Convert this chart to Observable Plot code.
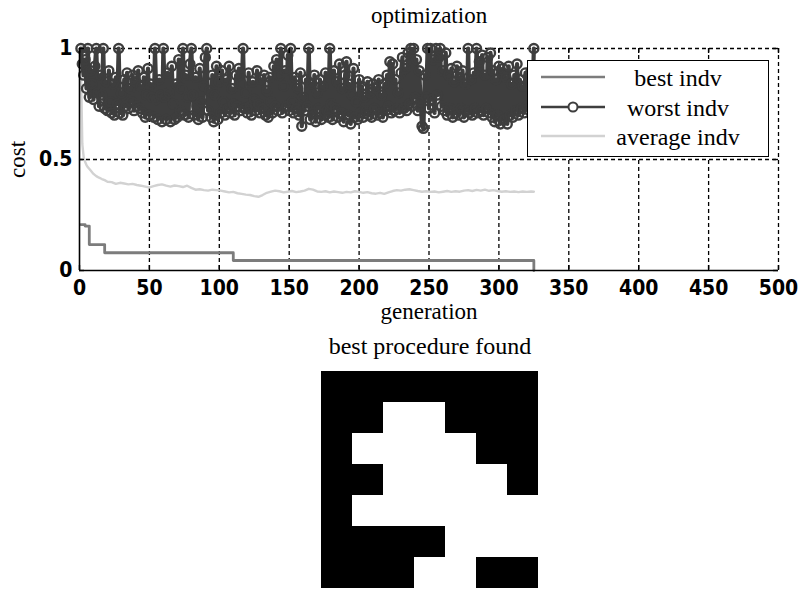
<!DOCTYPE html>
<html><head><meta charset="utf-8">
<script src="https://cdn.jsdelivr.net/npm/d3@7"></script>
<script src="https://cdn.jsdelivr.net/npm/@observablehq/plot@0.6"></script>
<style>
html,body{margin:0;padding:0;background:#fff;}
#wrap{position:relative;width:798px;height:591px;overflow:hidden;background:#fff;}
#topchart{position:absolute;left:0;top:0;}
#bottomchart{position:absolute;left:0;top:328px;}
#legend{position:absolute;left:527px;top:60px;width:240px;height:95px;border:1.5px solid #000;background:#fff;}
</style>
</head><body>
<div id="wrap">
  <div id="topchart"></div>
  <div id="bottomchart"></div>
  <div id="legend"></div>
</div>
<script>
// ---------- data ----------
const xTicks = [0, 50, 100, 150, 200, 250, 300, 350, 400, 450, 500];
const yTicks = [0, 0.5, 1];
const seriesNames = ["best indv", "worst indv", "average indv"];
const seriesColors = ["#7c7c7c", "#3e3e3e", "#d2d2d2"];

// best individual cost (step changes)
const bestGen  = [1, 4, 7, 18, 110, 325];
const bestCost = [0.207, 0.2, 0.117, 0.08, 0.045, 0];

// average individual cost
const avgGen = [1,2,3,4,5,6,8,10,12,14,16,18,20,23,26,29,32,35,38,41,44,47,50,53,56,59,62,65,68,71,74,77,80,83,86,89,92,95,98,101,104,107,110,113,116,119,122,125,128,131,134,137,140,143,146,149,152,155,158,161,164,167,170,173,176,179,182,185,188,191,194,197,200,203,206,209,212,215,218,221,224,227,230,233,236,239,242,245,248,251,254,257,260,263,266,269,272,275,278,281,284,287,290,293,296,299,302,305,308,311,314,317,320,323,325];
const avgCost = [0.93,0.57,0.51,0.49,0.475,0.465,0.45,0.435,0.425,0.418,0.412,0.407,0.40,0.398,0.39,0.395,0.392,0.388,0.39,0.385,0.382,0.378,0.374,0.38,0.385,0.388,0.382,0.378,0.383,0.38,0.376,0.382,0.372,0.364,0.366,0.362,0.36,0.364,0.362,0.36,0.356,0.352,0.354,0.348,0.345,0.342,0.34,0.335,0.332,0.34,0.35,0.355,0.36,0.357,0.352,0.355,0.358,0.353,0.356,0.36,0.368,0.364,0.356,0.354,0.357,0.352,0.356,0.353,0.35,0.354,0.352,0.357,0.354,0.35,0.353,0.348,0.346,0.35,0.345,0.352,0.358,0.362,0.36,0.364,0.366,0.362,0.358,0.355,0.357,0.354,0.356,0.352,0.355,0.358,0.354,0.357,0.355,0.36,0.362,0.358,0.363,0.36,0.364,0.359,0.362,0.358,0.355,0.357,0.354,0.356,0.353,0.356,0.354,0.356,0.355];

// worst individual cost, generations 1..325
const worstCost = [
1.00,0.93,0.88,0.95,0.82,1.00,0.78,0.90,0.84,0.77,
0.92,1.00,0.80,0.74,0.88,0.79,1.00,0.73,0.85,0.72,
0.90,0.76,0.71,0.84,0.70,0.87,0.75,1.00,0.71,0.80,
0.70,0.86,0.74,0.89,0.73,0.82,0.76,0.88,0.72,0.85,
0.74,0.90,0.73,0.83,0.71,0.87,0.69,0.79,0.91,0.70,
0.84,0.78,0.69,1.00,0.77,0.68,0.86,0.79,0.67,1.00,
0.78,0.68,0.89,0.80,0.67,0.92,0.75,0.68,0.84,0.69,
0.95,0.72,0.82,1.00,0.70,0.88,0.78,0.69,0.93,1.00,
0.79,0.70,0.87,0.74,0.68,0.91,0.76,0.69,0.83,0.96,
1.00,0.72,0.81,0.69,0.88,0.67,0.79,0.92,0.68,0.85,
0.71,0.90,0.76,0.70,0.86,0.73,0.92,0.71,0.82,0.75,
0.70,0.88,0.74,0.91,0.72,0.84,1.00,0.73,0.80,0.71,
0.89,0.74,0.70,0.85,0.77,0.72,0.90,0.75,0.71,0.86,
0.73,0.88,0.70,0.81,0.69,0.87,0.76,0.71,0.92,0.74,
0.95,0.72,0.88,1.00,0.71,0.83,0.90,0.74,0.97,0.72,
1.00,0.76,0.71,0.87,0.73,0.82,0.70,0.89,0.65,0.78,
0.72,0.86,0.74,1.00,0.68,0.84,0.71,0.88,0.67,0.80,
0.73,0.86,0.68,0.83,0.70,0.89,0.72,0.69,1.00,0.75,
0.68,0.90,0.73,0.85,0.69,0.93,0.71,0.82,0.67,0.88,
0.94,0.70,0.84,0.66,0.79,0.91,0.69,0.76,0.68,0.86,
0.71,0.83,0.69,0.78,0.72,0.85,0.70,0.80,0.69,0.84,
0.73,0.82,0.70,0.86,0.71,0.79,0.69,0.84,0.72,0.88,
0.74,0.94,0.71,0.93,0.72,0.86,0.73,0.80,0.71,0.89,
0.96,0.73,0.91,0.72,0.98,0.75,1.00,0.74,1.00,0.78,
0.95,0.72,0.90,0.76,0.65,0.64,0.88,0.78,1.00,0.73,
1.00,0.77,0.95,0.71,1.00,0.79,0.96,1.00,0.74,0.90,
0.72,0.98,0.70,0.88,0.73,0.91,0.69,0.85,0.71,0.92,
0.70,0.87,0.73,0.90,0.69,0.84,0.72,1.00,0.71,0.86,
0.70,0.89,0.73,1.00,0.71,0.94,0.72,0.97,0.70,0.88,
0.73,0.96,0.71,0.98,0.69,0.90,0.67,0.86,0.70,0.92,
0.66,0.89,0.91,0.68,0.87,0.66,0.92,0.70,0.84,0.69,
0.88,0.72,0.93,0.70,0.86,0.73,0.83,0.71,0.89,0.74,
0.87,0.72,0.90,0.76,1.00
];

// best procedure found (1 = black, 0 = white), rows top to bottom
const procedureRows = [
  "1111111",
  "1100111",
  "1000011",
  "1100001",
  "1000000",
  "1111000",
  "1110011"
];

// ---------- build tables ----------
const best  = bestGen.map((g, i) => ({g, c: bestCost[i]}));
const avg   = avgGen.map((g, i) => ({g, c: avgCost[i]}));
const worst = worstCost.map((c, i) => ({g: i + 1, c}));
const cells = procedureRows.flatMap((row, r) => row.split("").map((v, c) => ({r, c, v: +v})));

const serif = "'Liberation Serif','Times New Roman',serif";
const tickFont = "'Liberation Sans Narrow','DejaVu Sans Condensed','Liberation Sans',sans-serif";

const W = 798, H = 330, mT = 48, mB = 60, mL = 79, mR = 20;
const plotH = H - mT - mB, plotW = W - mL - mR;
const dash = "4,3";

const topPlot = Plot.plot({
  width: W, height: H,
  marginTop: mT, marginBottom: mB, marginLeft: mL, marginRight: mR,
  x: {domain: [0, 500], axis: null},
  y: {domain: [0, 1], axis: null},
  marks: [
    Plot.ruleX(xTicks.filter(d => d > 0), {x: d => d, stroke: "#000", strokeWidth: 1.3, strokeDasharray: dash}),
    Plot.ruleY(yTicks.filter(d => d > 0), {y: d => d, stroke: "#000", strokeWidth: 1.3, strokeDasharray: dash}),
    Plot.line(avg, {x: "g", y: "c", stroke: seriesColors[2], strokeWidth: 2.4}),
    Plot.line(best, {x: "g", y: "c", curve: "step-after", stroke: seriesColors[0], strokeWidth: 2.8}),
    Plot.line(worst, {x: "g", y: "c", stroke: seriesColors[1], strokeWidth: 4.2, strokeLinejoin: "round"}),
    Plot.dot(worst, {x: "g", y: "c", r: 4.5, stroke: seriesColors[1], strokeWidth: 2.4, fill: "none"}),
    Plot.ruleX([0], {stroke: "#000", strokeWidth: 1.6}),
    Plot.ruleY([0], {stroke: "#000", strokeWidth: 1.6}),
    Plot.tickX(xTicks, {x: d => d, stroke: "#000", strokeWidth: 1.4, insetTop: plotH - 5}),
    Plot.tickX(xTicks, {x: d => d, stroke: "#000", strokeWidth: 1.4, insetBottom: plotH - 5}),
    Plot.tickY(yTicks, {y: d => d, stroke: "#000", strokeWidth: 1.4, insetRight: plotW - 5}),
    Plot.tickY(yTicks, {y: d => d, stroke: "#000", strokeWidth: 1.4, insetLeft: plotW - 5}),
    Plot.axisX({ticks: xTicks, tickSize: 0, tickPadding: 10, tickFormat: d => `${d}`, label: null,
      fontFamily: tickFont, fontWeight: "bold", fontSize: 21, fill: "#000"}),
    Plot.axisY({ticks: yTicks, tickSize: 0, tickPadding: 7, tickFormat: d => `${d}`, label: null,
      fontFamily: tickFont, fontWeight: "bold", fontSize: 21, fill: "#000"}),
    Plot.text(["optimization"], {frameAnchor: "top", dy: -26, lineAnchor: "bottom", textAnchor: "middle", fontFamily: serif, fontSize: 23, fill: "#000"}),
    Plot.text(["generation"], {frameAnchor: "bottom", dy: 48, lineAnchor: "bottom", textAnchor: "middle", fontFamily: serif, fontSize: 23, fill: "#000"}),
    Plot.text(["cost"], {frameAnchor: "left", dx: -55, rotate: -90, lineAnchor: "bottom", textAnchor: "middle", fontFamily: serif, fontSize: 23, fill: "#000"})
  ]
});
document.getElementById("topchart").appendChild(topPlot);

const bottomPlot = Plot.plot({
  width: W, height: 263,
  marginTop: 40, marginBottom: 0, marginLeft: 320, marginRight: 259,
  x: {type: "band", domain: d3.range(7), padding: 0, axis: null},
  y: {type: "band", domain: d3.range(7), padding: 0, axis: null},
  color: {type: "identity"},
  marks: [
    Plot.cell(cells, {x: "c", y: "r", fill: d => d.v ? "#000" : "#fff", inset: 0, shapeRendering: "crispEdges"}),
    Plot.text(["best procedure found"], {frameAnchor: "top", dy: -15, lineAnchor: "bottom", textAnchor: "middle", fontFamily: serif, fontSize: 24, fill: "#000"})
  ]
});
document.getElementById("bottomchart").appendChild(bottomPlot);

// ---------- legend ----------
const lg = d3.select("#legend").append("svg").attr("width", 240).attr("height", 95)
  .style("display", "block");
const rowY = [16, 46, 75];
seriesNames.forEach((name, i) => {
  const y = rowY[i];
  lg.append("line").attr("x1", 13).attr("x2", 77).attr("y1", y).attr("y2", y)
    .attr("stroke", seriesColors[i]).attr("stroke-width", 2.4);
  if (i === 1) lg.append("circle").attr("cx", 45).attr("cy", y).attr("r", 4.5)
    .attr("fill", "#fff").attr("stroke", seriesColors[1]).attr("stroke-width", 2);
  lg.append("text").attr("x", 150).attr("y", y + 8.5).attr("text-anchor", "middle")
    .attr("font-family", serif).attr("font-size", 24).attr("fill", "#000").text(name);
});
</script>
</body></html>
